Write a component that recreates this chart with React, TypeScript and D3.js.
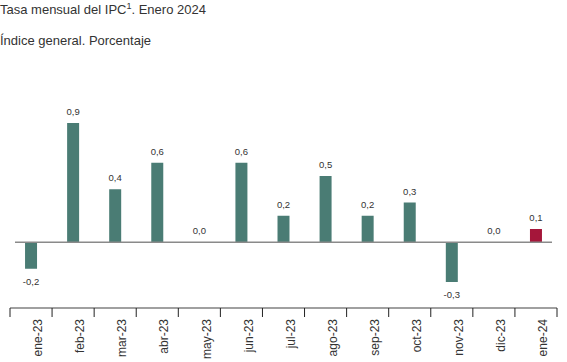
import React from 'react';
import * as d3 from 'd3';

const months = ['ene-23', 'feb-23', 'mar-23', 'abr-23', 'may-23', 'jun-23', 'jul-23', 'ago-23', 'sep-23', 'oct-23', 'nov-23', 'dic-23', 'ene-24'];
const rates = [-0.2, 0.9, 0.4, 0.6, 0.0, 0.6, 0.2, 0.5, 0.2, 0.3, -0.3, 0.0, 0.1];
const highlight = ['ene-24'];

const W = 567;
const H = 362;

const fmt = (v: number) => v.toFixed(1).replace('.', ',');

export default function App() {
  const x = d3.scaleBand<string>()
    .domain(months)
    .range([10, 557])
    .paddingInner(0.715)
    .paddingOuter(0.3575);

  const y = d3.scaleLinear()
    .domain([-0.3, 0.9])
    .range([282, 123]);

  const axisY = 308;
  const bw = x.bandwidth();

  return (
    <svg width={W} height={H} style={{ position: 'absolute', left: 0, top: 0 }}
      fontFamily="'Liberation Sans', Arial, sans-serif">
      <text x={0} y={14} fontSize={13} fill="#333">
        Tasa mensual del IPC<tspan fontSize={9} dy={-5}>1</tspan><tspan dy={5}>. Enero 2024</tspan>
      </text>
      <text x={0} y={45} fontSize={13} fill="#333">Índice general. Porcentaje</text>

      {/* bars */}
      {months.map((m, i) => {
        const v = rates[i];
        const top = y(Math.max(0, v));
        const h = Math.abs(y(v) - y(0));
        const cx = (x(m) as number) + bw / 2;
        const ly = v >= 0 ? y(v) - 8 : y(v) + 16;
        return (
          <g key={m}>
            {h > 0 && (
              <rect x={x(m)} y={top} width={bw} height={h}
                fill={highlight.includes(m) ? '#a5163a' : '#4a7c74'} />
            )}
            <text x={cx} y={ly} fontSize={9.5} textAnchor="middle" fill="#333">{fmt(v)}</text>
          </g>
        );
      })}

      {/* zero line */}
      <line x1={15} x2={552} y1={y(0)} y2={y(0)} stroke="#8a8a8a" strokeWidth={1.5} />

      {/* category axis */}
      <line x1={x.range()[0]} x2={x.range()[1]} y1={axisY} y2={axisY} stroke="#808080" strokeWidth={1.5} />
      {months.map((m, i) => (
        <line key={'t' + m} x1={x.range()[0] + x.step() * i} x2={x.range()[0] + x.step() * i}
          y1={axisY} y2={axisY + 9} stroke="#222" strokeWidth={1} />
      ))}
      <line x1={x.range()[1]} x2={x.range()[1]} y1={axisY} y2={axisY + 9} stroke="#222" strokeWidth={1} />
      {months.map((m) => {
        const cx = (x(m) as number) + bw / 2 + 7;
        return (
          <text key={'l' + m} transform={`translate(${cx},${axisY + 11}) rotate(-90)`}
            textAnchor="end" dy="0.35em" fontSize={12} fill="#333">{m}</text>
        );
      })}
    </svg>
  );
}
